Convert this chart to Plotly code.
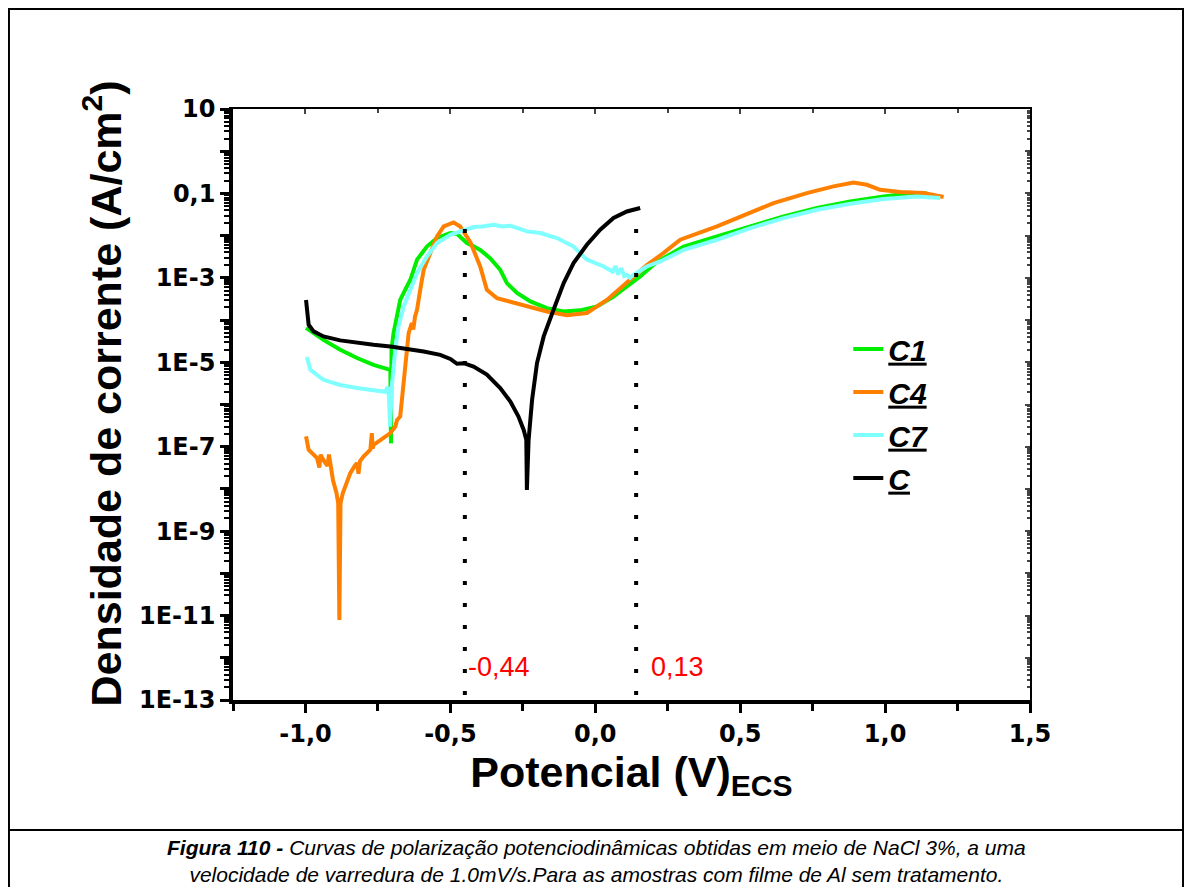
import plotly.graph_objects as go
from math import log10

# ---------------- data (potential V vs current density A/cm2) ----------------
pot_C1 = [-0.998, -0.938, -0.880, -0.822, -0.765, -0.707, -0.705, -0.703, -0.696, -0.684,
          -0.673, -0.656, -0.638, -0.615, -0.581, -0.546, -0.500, -0.477, -0.460, -0.443,
          -0.420, -0.397, -0.362, -0.328, -0.305, -0.270, -0.224, -0.167, -0.109, -0.052,
          0.006, 0.063, 0.109, 0.155, 0.213, 0.305, 0.420, 0.535, 0.650, 0.765, 0.880,
          0.995, 1.098, 1.145]
j_C1 = [6.5e-5, 3.4e-5, 1.98e-5, 1.26e-5, 8.7e-6, 6.6e-6, 1.2e-7, 2.0e-5, 4.9e-5, 1.2e-4,
        3.0e-4, 5.2e-4, 9.0e-4, 2.7e-3, 5.5e-3, 8.8e-3, 1.15e-2, 1.1e-2, 8.8e-3, 6.7e-3,
        5.6e-3, 4.6e-3, 2.9e-3, 1.55e-3, 7.5e-4, 4.4e-4, 2.76e-4, 1.92e-4, 1.6e-4, 1.7e-4,
        2.1e-4, 3.6e-4, 6.3e-4, 1.08e-3, 2.4e-3, 5.5e-3, 9.6e-3, 1.65e-2, 2.85e-2, 4.5e-2,
        6.46e-2, 8.5e-2, 0.102, 0.100]

pot_C4 = [-0.998, -0.989, -0.972, -0.960, -0.952, -0.948, -0.935, -0.924, -0.919, -0.913,
          -0.905, -0.893, -0.887, -0.883, -0.879, -0.871, -0.863, -0.845, -0.830, -0.822,
          -0.817, -0.812, -0.799, -0.776, -0.771, -0.768, -0.765, -0.731, -0.707, -0.690,
          -0.684, -0.673, -0.661, -0.656, -0.644, -0.633, -0.628, -0.622, -0.615, -0.604,
          -0.592, -0.569, -0.546, -0.523, -0.489, -0.466, -0.431, -0.397, -0.374, -0.339,
          -0.300, -0.259, -0.210, -0.167, -0.098, -0.029, 0.040, 0.121, 0.178, 0.236,
          0.293, 0.420, 0.500, 0.615, 0.730, 0.822, 0.891, 0.937, 0.983, 1.052, 1.133, 1.202]
j_C4 = [1.75e-7, 8.5e-8, 6.5e-8, 5.4e-8, 3.2e-8, 6.5e-8, 4.5e-8, 3.5e-8, 6.5e-8, 3.0e-8,
        1.6e-8, 8.0e-9, 4.6e-9, 7.9e-12, 4.6e-9, 8.0e-9, 1.14e-8, 2.4e-8, 3.5e-8, 4.1e-8,
        2.3e-8, 4.5e-8, 5.9e-8, 8.5e-8, 2.1e-7, 9.0e-8, 1.1e-7, 1.6e-7, 2.1e-7, 3.0e-7,
        4.3e-7, 5.2e-7, 3.2e-6, 1.15e-5, 4.9e-5, 8.5e-5, 6.0e-5, 1.2e-4, 1.75e-4, 5.2e-4,
        1.55e-3, 3.9e-3, 9.6e-3, 1.65e-2, 2.06e-2, 1.65e-2, 7.0e-3, 1.86e-3, 5.2e-4, 3.3e-4,
        2.8e-4, 2.3e-4, 1.9e-4, 1.6e-4, 1.3e-4, 1.47e-4, 3.0e-4, 9.0e-4, 2.0e-3, 3.9e-3,
        8.0e-3, 1.65e-2, 2.85e-2, 5.9e-2, 0.102, 0.147, 0.182, 0.160, 0.122, 0.108, 0.102, 0.082]

pot_C7 = [-0.995, -0.983, -0.938, -0.880, -0.822, -0.765, -0.725, -0.716, -0.712, -0.708,
          -0.705, -0.702, -0.690, -0.679, -0.661, -0.638, -0.615, -0.581, -0.546, -0.500,
          -0.454, -0.420, -0.390, -0.351, -0.320, -0.293, -0.260, -0.236, -0.190, -0.132,
          -0.075, -0.029, 0.029, 0.060, 0.070, 0.078, 0.090, 0.100, 0.109, 0.120, 0.132,
          0.178, 0.224, 0.305, 0.420, 0.535, 0.650, 0.765, 0.880, 0.995, 1.110, 1.190]
j_C7 = [1.33e-5, 6.6e-6, 3.85e-6, 2.9e-6, 2.45e-6, 2.15e-6, 2.0e-6, 2.6e-6, 1.5e-6, 3.0e-7,
        1.2e-6, 2.7e-6, 2.0e-5, 7.0e-5, 2.1e-4, 5.2e-4, 1.3e-3, 3.2e-3, 6.7e-3, 1.05e-2,
        1.38e-2, 1.6e-2, 1.65e-2, 1.8e-2, 1.65e-2, 1.71e-2, 1.45e-2, 1.26e-2, 1.15e-2, 8.8e-3,
        5.5e-3, 2.7e-3, 1.86e-3, 1.4e-3, 1.9e-3, 1.2e-3, 1.7e-3, 1.1e-3, 1.18e-3, 1.0e-3, 1.18e-3,
        1.86e-3, 2.45e-3, 4.6e-3, 8.0e-3, 1.51e-2, 2.6e-2, 4.1e-2, 5.7e-2, 7.36e-2, 8.5e-2, 7.8e-2]

pot_C = [-0.998, -0.989, -0.972, -0.938, -0.880, -0.822, -0.765, -0.707, -0.650, -0.592,
         -0.535, -0.500, -0.477, -0.454, -0.420, -0.374, -0.328, -0.293, -0.265, -0.247,
         -0.238, -0.236, -0.230, -0.218, -0.201, -0.178, -0.144, -0.109, -0.075, -0.029,
         0.017, 0.063, 0.109, 0.155]
j_C = [3.0e-4, 7.8e-5, 5.4e-5, 4.1e-5, 3.3e-5, 2.85e-5, 2.6e-5, 2.37e-5, 2.09e-5, 1.8e-5,
       1.5e-5, 1.2e-5, 9.2e-6, 9.5e-6, 7.9e-6, 5.1e-6, 2.45e-6, 1.18e-6, 5.2e-7, 2.5e-7,
       1.46e-7, 9.5e-9, 1.46e-7, 1.29e-6, 9.6e-6, 4.1e-5, 1.75e-4, 7.5e-4, 2.24e-3, 6.1e-3,
       1.38e-2, 2.61e-2, 3.74e-2, 4.51e-2]

series_names = ["C1", "C4", "C7", "C"]
series_colors = ["#00EE00", "#FF8000", "#80FFFF", "#000000"]

marker_potentials = [-0.450, 0.141]
marker_labels = ["-0,44", "0,13"]
marker_label_x = [-0.447, 0.186]
marker_top = 0.0143
marker_bottom = 1e-13
label_current = 6.1e-13

x_tickvals = [-1.0, -0.5, 0.0, 0.5, 1.0, 1.5]
x_ticktext = ["-1,0", "-0,5", "0,0", "0,5", "1,0", "1,5"]
x_minor = [-1.25, -0.75, -0.25, 0.25, 0.75, 1.25]
y_exponents = list(range(-13, 2))
y_labels = {1: "10", -1: "0,1", -3: "1E-3", -5: "1E-5", -7: "1E-7",
            -9: "1E-9", -11: "1E-11", -13: "1E-13"}

x_title = "Potencial (V)<sub>ECS</sub>"
y_title = "Densidade de corrente (A/cm<sup>2</sup>)"
caption = ("<b><i>Figura 110 - </i></b><i>Curvas de polarização potenciodinâmicas "
           "obtidas em meio de NaCl 3%, a uma</i><br>"
           "<i>velocidade de varredura de 1.0mV/s.Para as amostras com filme de Al "
           "sem tratamento.</i>")

# ---------------- figure ----------------
fig = go.Figure()
for name, xs, ys, col in zip(series_names, [pot_C1, pot_C4, pot_C7, pot_C],
                             [j_C1, j_C4, j_C7, j_C], series_colors):
    fig.add_trace(go.Scatter(x=xs, y=ys, mode="lines", name="<u>%s</u>" % name,
                             legendgroup=name,
                             line=dict(color=col, width=4)))

for xv in marker_potentials:
    fig.add_trace(go.Scatter(x=[xv, xv], y=[marker_top, marker_bottom], mode="lines",
                             showlegend=False, hoverinfo="skip",
                             line=dict(color="black", width=4, dash="4px,18px")))

# dummy trace so the mirrored top/right axes are drawn
fig.add_trace(go.Scatter(x=[None], y=[None], xaxis="x2", yaxis="y2",
                         showlegend=False, hoverinfo="skip"))

y_tickvals = [10.0 ** e for e in y_exponents]
y_ticktext = [y_labels.get(e, "") for e in y_exponents]
y_minor = [m * 10.0 ** e for e in y_exponents[:-1] for m in range(2, 10)]

tickfont = dict(family="DejaVu Sans", size=24, color="black", weight="bold")

fig.update_layout(
    width=1176, height=879,
    paper_bgcolor="white", plot_bgcolor="white",
    margin=dict(l=225, r=154, t=101, b=187, autoexpand=False),
    font=dict(family="Liberation Sans, Arial", color="black"),
    xaxis=dict(range=[-1.25, 1.5], showgrid=False, zeroline=False,
               showline=True, linecolor="black", linewidth=3.5,
               ticks="outside", ticklen=9, tickwidth=2.5, tickcolor="black",
               tickvals=x_tickvals, ticktext=x_ticktext, tickfont=tickfont,
               minor=dict(tickvals=x_minor, ticks="outside", ticklen=7,
                          tickwidth=2.5, tickcolor="black", showgrid=False),
               title=dict(text=x_title, standoff=0,
                          font=dict(family="Liberation Sans, Arial", size=43,
                                    weight="bold", color="black"))),
    yaxis=dict(type="log", range=[-13, 1], showgrid=False, zeroline=False,
               showline=True, linecolor="black", linewidth=3.5,
               ticks="outside", ticklen=9, tickwidth=2.5, tickcolor="black",
               tickvals=y_tickvals, ticktext=y_ticktext, tickfont=tickfont,
               minor=dict(tickvals=y_minor, ticks="outside", ticklen=5,
                          tickwidth=2, tickcolor="black", showgrid=False)),
    xaxis2=dict(range=[-1.25, 1.5], overlaying="x", side="top", anchor="y",
                showgrid=False, zeroline=False, showline=True, linecolor="black",
                linewidth=2, ticks="inside", ticklen=5, tickwidth=2,
                tickvals=x_tickvals, showticklabels=False,
                minor=dict(tickvals=x_minor, ticks="inside", ticklen=4, tickwidth=2)),
    yaxis2=dict(type="log", range=[-13, 1], overlaying="y", side="right", anchor="x",
                showgrid=False, zeroline=False, showline=True, linecolor="black",
                linewidth=2, ticks="inside", ticklen=5, tickwidth=2,
                tickvals=y_tickvals, showticklabels=False,
                minor=dict(tickvals=y_minor, ticks="inside", ticklen=3, tickwidth=1.5)),
    showlegend=True,
    legend=dict(x=0.772, y=0.638, xanchor="left", yanchor="top",
                bgcolor="rgba(0,0,0,0)", traceorder="grouped", tracegroupgap=1,
                font=dict(family="Liberation Sans, Arial", size=30, weight="bold",
                          style="italic", color="black")),
)

# y-axis title (placed as rotated text beside the axis)
fig.add_annotation(x=-0.1644, y=0.5186, xref="paper", yref="paper", text=y_title,
                   textangle=-90, showarrow=False, xanchor="center", yanchor="middle",
                   font=dict(family="Liberation Sans, Arial", size=43, weight="bold",
                             color="black"))

for lab, lx in zip(marker_labels, marker_label_x):
    fig.add_annotation(x=lx, y=log10(label_current), xref="x", yref="y", text=lab,
                       showarrow=False, xanchor="left", yanchor="middle",
                       font=dict(family="Liberation Sans, Arial", size=27, color="#FF0000"))

fig.add_annotation(x=0.4555, y=-0.272, xref="paper", yref="paper", text=caption,
                   showarrow=False, xanchor="center", yanchor="middle", align="center",
                   font=dict(family="Liberation Sans, Arial", size=21, color="black"))

# figure frame (bottom edge falls beyond the page) and caption separator
fig.add_shape(type="rect", xref="paper", yref="paper", x0=-0.2811, x1=1.192,
              y0=-0.33, y1=1.1692, line=dict(color="black", width=2))
fig.add_shape(type="line", xref="paper", yref="paper", x0=-0.2811, x1=1.192,
              y0=-0.22, y1=-0.22, line=dict(color="black", width=2))

fig.write_html("out.html")
